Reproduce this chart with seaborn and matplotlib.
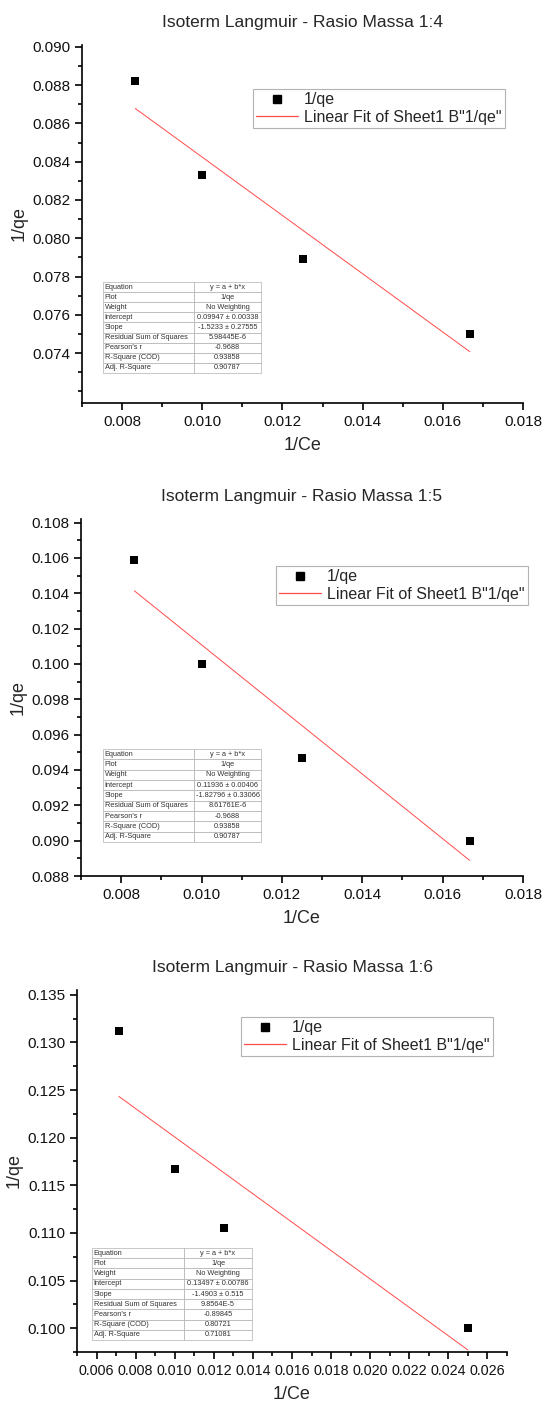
import matplotlib
matplotlib.use("Agg")
import matplotlib.pyplot as plt
from matplotlib.lines import Line2D
from matplotlib.ticker import MultipleLocator, FixedLocator, FormatStrFormatter
import seaborn as sns
import pandas as pd
import numpy as np

# data
ce_14 = [0.00833, 0.01000, 0.01250, 0.01667]
qe_14 = [0.0882, 0.0833, 0.0789, 0.0750]
ce_15 = [0.00833, 0.01000, 0.01250, 0.01667]
qe_15 = [0.1059, 0.1000, 0.0947, 0.0900]
ce_16 = [0.00714, 0.01000, 0.01250, 0.02500]
qe_16 = [0.1312, 0.1167, 0.1105, 0.1000]

intercepts = [0.09947, 0.11936, 0.13497]
slopes = [-1.5233, -1.82796, -1.4903]

yticks_14 = [0.074, 0.076, 0.078, 0.080, 0.082, 0.084, 0.086, 0.088, 0.090]
yticks_15 = [0.088, 0.090, 0.092, 0.094, 0.096, 0.098, 0.100, 0.102, 0.104, 0.106, 0.108]
yticks_16 = [0.100, 0.105, 0.110, 0.115, 0.120, 0.125, 0.130, 0.135]

table_14 = [
    ["Equation", "y = a + b*x"],
    ["Plot", "1/qe"],
    ["Weight", "No Weighting"],
    ["Intercept", "0.09947 ± 0.00338"],
    ["Slope", "-1.5233 ± 0.27555"],
    ["Residual Sum of Squares", "5.98445E-6"],
    ["Pearson's r", "-0.9688"],
    ["R-Square (COD)", "0.93858"],
    ["Adj. R-Square", "0.90787"],
]
table_15 = [
    ["Equation", "y = a + b*x"],
    ["Plot", "1/qe"],
    ["Weight", "No Weighting"],
    ["Intercept", "0.11936 ± 0.00406"],
    ["Slope", "-1.82796 ± 0.33066"],
    ["Residual Sum of Squares", "8.61761E-6"],
    ["Pearson's r", "-0.9688"],
    ["R-Square (COD)", "0.93858"],
    ["Adj. R-Square", "0.90787"],
]
table_16 = [
    ["Equation", "y = a + b*x"],
    ["Plot", "1/qe"],
    ["Weight", "No Weighting"],
    ["Intercept", "0.13497 ± 0.00786"],
    ["Slope", "-1.4903 ± 0.515"],
    ["Residual Sum of Squares", "9.8564E-5"],
    ["Pearson's r", "-0.89845"],
    ["R-Square (COD)", "0.80721"],
    ["Adj. R-Square", "0.71081"],
]

titles = ["Isoterm Langmuir - Rasio Massa 1:4",
          "Isoterm Langmuir - Rasio Massa 1:5",
          "Isoterm Langmuir - Rasio Massa 1:6"]

W, H = 542, 1408
FIT_COLOR = "#ff4a4a"

sns.set_style("ticks")
plt.rcParams["font.family"] = ["Liberation Sans", "DejaVu Sans"]


def px_axes(fig, left, top, right, bottom):
    return fig.add_axes([left / W, 1 - bottom / H, (right - left) / W, (bottom - top) / H])


def draw_panel(fig, box, ce, qe, a, b, tbl, title, xlim, ylim, yticks, ymin_,
               xsize, leg_xy, tbl_box, col_split):
    ax = px_axes(fig, *box)
    df = pd.DataFrame({"ce": ce, "qe": qe})
    fit = pd.DataFrame({"ce": [ce[0], ce[-1]]})
    fit["qe"] = a + b * fit["ce"]

    sns.lineplot(data=fit, x="ce", y="qe", ax=ax, color=FIT_COLOR, linewidth=0.7,
                 legend=False)
    sns.scatterplot(data=df, x="ce", y="qe", ax=ax, marker="s", s=38, color="black",
                    edgecolor="black", linewidth=0, legend=False, zorder=5)

    ax.set_xlim(*xlim)
    ax.set_ylim(*ylim)
    ax.xaxis.set_major_locator(MultipleLocator(0.002))
    ax.xaxis.set_minor_locator(MultipleLocator(0.001))
    ax.yaxis.set_major_locator(FixedLocator(yticks))
    ax.yaxis.set_minor_locator(MultipleLocator(ymin_))
    ax.xaxis.set_major_formatter(FormatStrFormatter("%.3f"))
    ax.yaxis.set_major_formatter(FormatStrFormatter("%.3f"))
    ax.tick_params(which="major", direction="out", length=5, width=1.2, labelsize=11,
                   color="black", labelcolor="#111111")
    ax.tick_params(axis="x", which="major", labelsize=xsize)
    ax.tick_params(which="minor", direction="out", length=3, width=1.2, color="black")
    for s in ["top", "right"]:
        ax.spines[s].set_visible(False)
    for s in ["left", "bottom"]:
        ax.spines[s].set_linewidth(1.2)
        ax.spines[s].set_color("black")
    ax.set_xlabel("1/Ce", fontsize=13, labelpad=6)
    ax.set_ylabel("1/qe", fontsize=13, labelpad=3)
    ax.set_title(title, fontsize=12.5, pad=13)

    handles = [
        Line2D([], [], linestyle="none", marker="s", markersize=5.5, color="black"),
        Line2D([], [], color=FIT_COLOR, linewidth=0.9),
    ]
    labels = ["1/qe", 'Linear Fit of Sheet1 B"1/qe"']
    l_ax, t_ax = box[0], box[1]
    wid = box[2] - box[0]
    hei = box[3] - box[1]
    lx = (leg_xy[0] - l_ax) / wid
    ly = 1 - (leg_xy[1] - t_ax) / hei
    leg = ax.legend(handles, labels, loc="upper left", bbox_to_anchor=(lx, ly),
                    fontsize=11.5, frameon=True, fancybox=False, edgecolor="#a0a0a0",
                    borderpad=0.2, labelspacing=0.15, handlelength=2.6,
                    handletextpad=0.4, borderaxespad=0)
    leg.get_frame().set_linewidth(0.8)

    tl, tt, tr, tb = tbl_box
    bbox = [(tl - l_ax) / wid, 1 - (tb - t_ax) / hei, (tr - tl) / wid, (tb - tt) / hei]
    c0 = (col_split - tl) / (tr - tl)
    table = ax.table(cellText=tbl, bbox=bbox, colWidths=[c0, 1 - c0])
    table.auto_set_font_size(False)
    table.set_fontsize(5.3)
    for (r, c), cell in table.get_celld().items():
        cell.set_edgecolor("#b0b0b0")
        cell.set_linewidth(0.5)
        cell.get_text().set_color("#333333")
        if c == 0:
            cell.get_text().set_ha("left")
            cell.PAD = 0.02
        else:
            cell.get_text().set_ha("center")
    return ax


fig = plt.figure(figsize=(W / 100, H / 100), dpi=100)
fig.patch.set_facecolor("white")

draw_panel(fig, (82, 45, 523, 403), ce_14, qe_14, intercepts[0], slopes[0], table_14,
           titles[0], (0.007, 0.018), (0.07139, 0.0901), yticks_14, 0.001, 11,
           (253, 89), (103, 282, 261, 373), 194)
draw_panel(fig, (81, 519, 523, 876), ce_15, qe_15, intercepts[1], slopes[1], table_15,
           titles[1], (0.007, 0.018), (0.088, 0.1082), yticks_15, 0.001, 11,
           (276, 566), (103, 749, 261, 842), 194)
draw_panel(fig, (77, 990, 507, 1352), ce_16, qe_16, intercepts[2], slopes[2], table_16,
           titles[2], (0.005, 0.027), (0.0975, 0.1355), yticks_16, 0.0025, 10.3,
           (241, 1017), (92, 1248, 252, 1340), 184)

fig.savefig("out.png", dpi=100)
